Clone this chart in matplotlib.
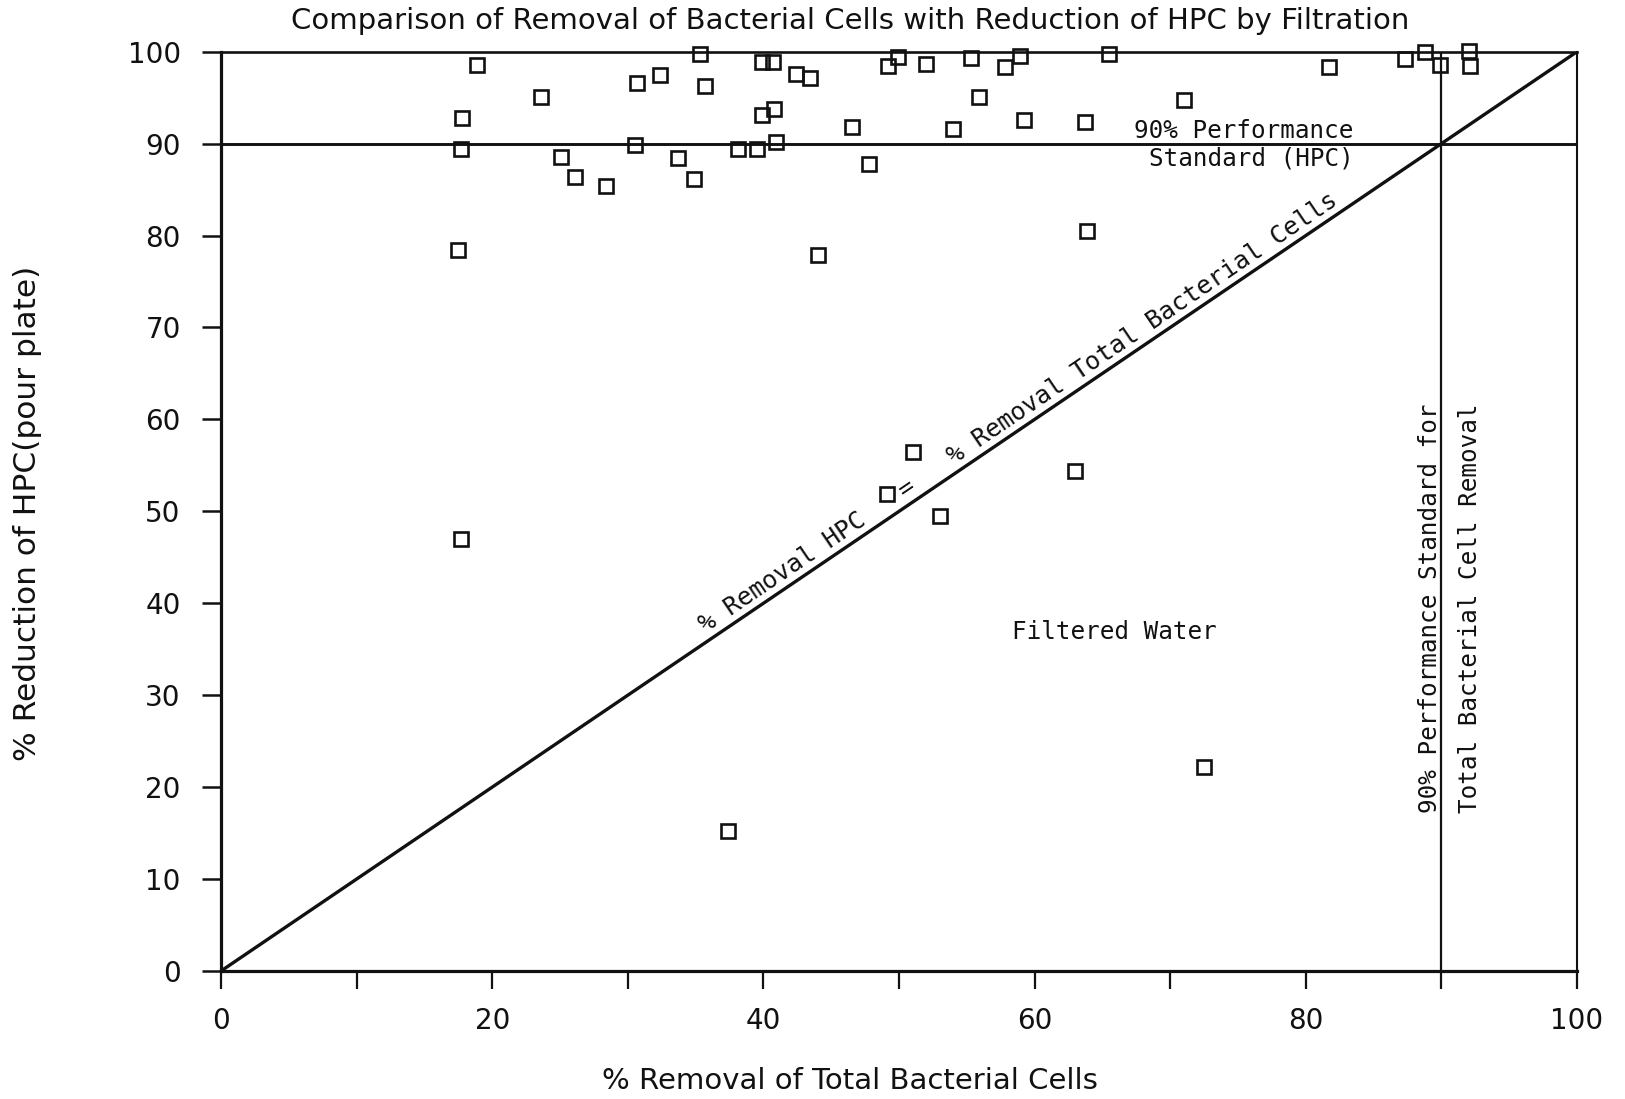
import numpy as np
import matplotlib
matplotlib.use("Agg")
import matplotlib.pyplot as plt

# % removal of total bacterial cells (x) vs % reduction of HPC (y)
removal_cells = [18.9, 17.8, 17.7, 17.5, 23.6, 25.1, 26.1, 28.4, 30.5, 30.7,
                 32.4, 33.7, 34.9, 35.3, 35.7, 38.1, 39.5, 39.9, 40.9, 40.8,
                 39.9, 40.7, 42.4, 43.4, 44.0,
                 49.2, 49.9, 52.0, 55.3, 55.9, 57.8, 58.9, 59.2, 65.5, 71.0,
                 46.5, 47.8, 54.0, 63.7, 63.9,
                 81.7, 87.3, 88.8, 89.9, 92.0, 92.1,
                 17.7, 37.4, 49.1, 51.0, 53.0, 63.0, 72.5]
reduction_hpc = [98.5, 92.8, 89.4, 78.4, 95.1, 88.5, 86.4, 85.4, 89.9, 96.6,
                 97.5, 88.4, 86.1, 99.8, 96.3, 89.4, 89.4, 93.1, 90.2, 93.8,
                 98.9, 98.9, 97.6, 97.1, 77.9,
                 98.4, 99.4, 98.7, 99.3, 95.1, 98.3, 99.5, 92.6, 99.8, 94.7,
                 91.8, 87.8, 91.6, 92.4, 80.5,
                 98.3, 99.2, 100.0, 98.5, 100.1, 98.4,
                 47.0, 15.2, 51.9, 56.5, 49.5, 54.4, 22.2]

standard = 90
ink = "#111111"
mono = "DejaVu Sans Mono"

fig = plt.figure(figsize=(16.25, 10.99), dpi=100)
ax = fig.add_axes([221 / 1625, 1 - 971 / 1099, (1577 - 221) / 1625, (971 - 51.7) / 1099])

# lignes de référence
ax.plot([0, 100], [0, 100], color=ink, lw=2.4, solid_capstyle="butt")
ax.axhline(standard, color=ink, lw=2.1)
ax.axvline(standard, color=ink, lw=1.6)

ax.plot(removal_cells, reduction_hpc, linestyle="none", marker="s", ms=10.5,
        mfc="none", mec=ink, mew=1.9, clip_on=False, zorder=3)

ax.set_xlim(0, 100)
ax.set_ylim(0, 100)
ax.set_xticks(np.arange(0, 101, 10))
ax.set_xticklabels([str(v) if v % 20 == 0 else "" for v in range(0, 101, 10)])
ax.set_yticks(np.arange(0, 101, 10))
ax.tick_params(axis="x", direction="out", length=13, width=1.6, pad=13,
               labelsize=20, colors=ink)
ax.tick_params(axis="y", direction="out", length=14, width=1.8, pad=15,
               labelsize=20, colors=ink)
for side, w in [("left", 2.3), ("bottom", 2.3), ("top", 1.9), ("right", 1.5)]:
    ax.spines[side].set_linewidth(w)
    ax.spines[side].set_color(ink)

# annotations
ax.text(83.5, 90.6, "90% Performance", family=mono, fontsize=17.5,
        ha="right", va="baseline", color=ink)
ax.text(83.5, 87.6, "Standard (HPC)", family=mono, fontsize=17.5,
        ha="right", va="baseline", color=ink)
ax.text(65.9, 36.9, "Filtered Water", family=mono, fontsize=17.5,
        ha="center", va="center", color=ink)
ax.text(59.1, 60.1, "% Removal HPC   =   % Removal Total Bacterial Cells",
        family=mono, fontsize=18, ha="center", va="baseline", color=ink,
        rotation=45, rotation_mode="anchor", transform_rotates_text=True)
ax.text(89.15, 39.5, "90% Performance Standard for", family=mono,
        fontsize=17.5, rotation=90, ha="center", va="center", color=ink)
ax.text(92.1, 39.5, "Total Bacterial Cell Removal", family=mono,
        fontsize=17.5, rotation=90, ha="center", va="center", color=ink)

fig.text(850 / 1625, 1 - 21 / 1099,
         "Comparison of Removal of Bacterial Cells with Reduction of HPC by Filtration",
         ha="center", va="center", fontsize=21, color=ink)
fig.text(850 / 1625, 1 - 1081 / 1099, "% Removal of Total Bacterial Cells",
         ha="center", va="center", fontsize=21, color=ink)
fig.text(28 / 1625, 1 - 513 / 1099, "% Reduction of HPC(pour plate)",
         ha="center", va="center", rotation=90, fontsize=22.5, color=ink)

fig.savefig("out.png", dpi=100, facecolor="white")
